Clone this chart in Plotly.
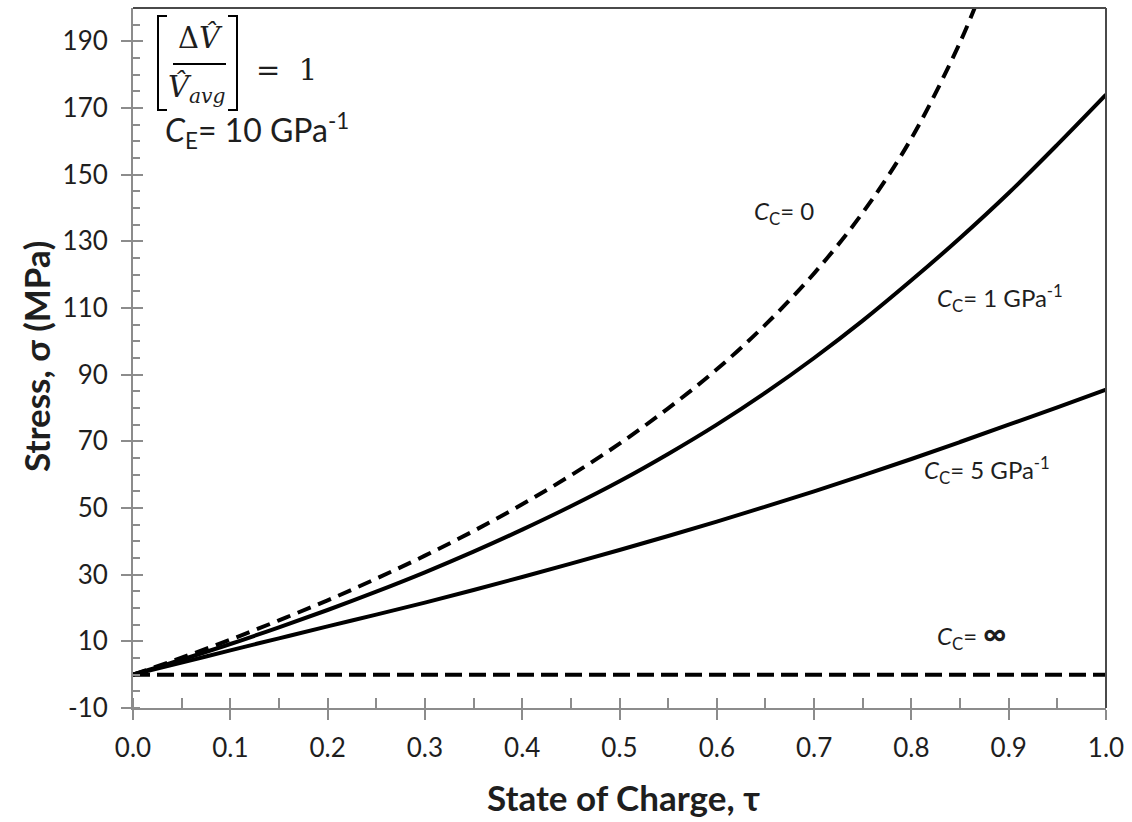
import plotly.graph_objects as go

# ---- data ----
tau_cc0 = [0.0, 0.05, 0.10, 0.15, 0.20, 0.25, 0.30, 0.35, 0.40, 0.45, 0.50, 0.55,
           0.60, 0.65, 0.70, 0.75, 0.80, 0.85, 0.87]
sig_cc0 = [0.0, 5.1, 10.5, 16.3, 22.3, 28.8, 35.7, 43.1, 51.1, 59.8, 69.3, 79.9,
           91.6, 105.0, 120.4, 138.6, 160.9, 189.7, 203.7]

tau = [0.0, 0.05, 0.10, 0.15, 0.20, 0.25, 0.30, 0.35, 0.40, 0.45, 0.50, 0.55,
       0.60, 0.65, 0.70, 0.75, 0.80, 0.85, 0.90, 0.95, 1.0]
sig_cc1 = [0.0, 4.5, 9.2, 14.2, 19.4, 24.9, 30.7, 36.9, 43.5, 50.5, 58.0, 66.2,
           75.0, 84.6, 95.0, 106.2, 118.3, 131.0, 144.5, 159.0, 174.0]
sig_cc5 = [0.0, 3.6, 7.3, 10.9, 14.5, 18.0, 21.6, 25.4, 29.3, 33.3, 37.4, 41.6,
           45.9, 50.4, 55.0, 59.8, 64.7, 69.8, 75.0, 80.2, 85.5]

tau_inf = [0.0, 1.0]
sig_inf = [0.0, 0.0]

x_range = [0.0, 1.0]
y_range = [-10, 200]
y_tickvals = [-10, 10, 30, 50, 70, 90, 110, 130, 150, 170, 190]
y_ticktext = ["-10", "10", "30", "50", "70", "90", "110", "130", "150", "170", "190"]

# ---- layout helpers (pixel -> paper) ----
L, T, W, H = 133, 8, 973, 700
def px(x):
    return (x - L) / W
def py(y):
    return (T + H - y) / H

AXIS = "#8c8c8c"
TXT = "#1e1e1e"
FONT = "Lato"
SERIF = "DejaVu Serif"

fig = go.Figure()
line_w = 4
fig.add_trace(go.Scatter(x=tau_cc0, y=sig_cc0, mode="lines", line_shape="spline",
                         line=dict(color="black", width=line_w, dash="14px,8px"),
                         showlegend=False, hoverinfo="skip"))
fig.add_trace(go.Scatter(x=tau, y=sig_cc1, mode="lines", line_shape="spline",
                         line=dict(color="black", width=line_w),
                         showlegend=False, hoverinfo="skip"))
fig.add_trace(go.Scatter(x=tau, y=sig_cc5, mode="lines", line_shape="spline",
                         line=dict(color="black", width=line_w),
                         showlegend=False, hoverinfo="skip"))
fig.add_trace(go.Scatter(x=tau_inf, y=sig_inf, mode="lines",
                         line=dict(color="black", width=line_w, dash="17px,7px"),
                         showlegend=False, hoverinfo="skip"))
# invisible trace on overlay axes (for inward half of major ticks)
fig.add_trace(go.Scatter(x=[0.5], y=[50], xaxis="x2", yaxis="y2", mode="markers",
                         marker=dict(opacity=0), showlegend=False, hoverinfo="skip"))

tickfont = dict(family=FONT, size=26, color=TXT)
fig.update_layout(
    width=1132, height=822,
    margin=dict(l=L, r=1132 - L - W, t=T, b=822 - T - H),
    paper_bgcolor="white", plot_bgcolor="white",
    xaxis=dict(range=x_range, tick0=0, dtick=0.1, tickformat=".1f",
               showgrid=False, zeroline=False,
               showline=True, linecolor=AXIS, linewidth=2,
               ticks="outside", ticklen=10, tickwidth=2, tickcolor=AXIS,
               ticklabelstandoff=6, tickfont=tickfont,
               minor=dict(ticks="inside", dtick=0.05, ticklen=10, tickwidth=2,
                          tickcolor=AXIS, showgrid=False)),
    yaxis=dict(range=y_range, tickmode="array", tickvals=y_tickvals,
               ticktext=y_ticktext,
               showgrid=False, zeroline=False,
               showline=True, linecolor=AXIS, linewidth=2,
               ticks="outside", ticklen=10, tickwidth=2, tickcolor=AXIS,
               ticklabelstandoff=8, tickfont=tickfont,
               minor=dict(ticks="inside", dtick=5, ticklen=7, tickwidth=2,
                          tickcolor=AXIS, showgrid=False)),
    xaxis2=dict(range=x_range, overlaying="x", anchor="y", side="bottom",
                tick0=0, dtick=0.1, ticks="inside", ticklen=10, tickwidth=2,
                tickcolor=AXIS, showticklabels=False, showgrid=False,
                zeroline=False, showline=False),
    yaxis2=dict(range=y_range, overlaying="y", anchor="x", side="left",
                tickmode="array", tickvals=y_tickvals,
                ticks="inside", ticklen=10, tickwidth=2,
                tickcolor=AXIS, showticklabels=False, showgrid=False,
                zeroline=False, showline=False),
)

shapes = [
    # plot-area border (top, right)
    dict(type="line", xref="paper", yref="paper", x0=0, x1=1, y0=1, y1=1,
         line=dict(color="#4a4a4a", width=2)),
    dict(type="line", xref="paper", yref="paper", x0=1, x1=1, y0=0, y1=1,
         line=dict(color="#4a4a4a", width=2)),
    # brackets of the formula
    dict(type="path", xref="paper", yref="paper",
         path=f"M {px(167)},{py(16)} L {px(158)},{py(16)} L {px(158)},{py(110)} L {px(167)},{py(110)}",
         line=dict(color="black", width=2)),
    dict(type="path", xref="paper", yref="paper",
         path=f"M {px(228)},{py(16)} L {px(237)},{py(16)} L {px(237)},{py(110)} L {px(228)},{py(110)}",
         line=dict(color="black", width=2)),
    # fraction bar
    dict(type="line", xref="paper", yref="paper", x0=px(173), x1=px(226),
         y0=py(64), y1=py(64), line=dict(color="black", width=2)),
]
fig.update_layout(shapes=shapes)

def ann(text, x, y, size, family=FONT, xanchor="left", yanchor="middle", angle=0):
    return dict(text=text, x=px(x), y=py(y), xref="paper", yref="paper",
                xanchor=xanchor, yanchor=yanchor, showarrow=False, textangle=angle,
                font=dict(family=family, size=size, color=TXT))

annotations = [
    ann("Δ<i>V\u0302</i>", 200, 38, 29, family=SERIF, xanchor="center"),
    ann("<i>V\u0302<sub>avg</sub></i>", 197, 89, 29, family=SERIF, xanchor="center"),
    ann("=  1", 254, 70, 29, family=SERIF),
    ann("<i>C</i><sub>E</sub>= 10 GPa<sup>-1</sup>", 163, 130, 32),
    ann("<i>C</i><sub>C</sub>= 0", 752, 213, 24),
    ann("<i>C</i><sub>C</sub>= 1 GPa<sup>-1</sup>", 935, 298, 24),
    ann("<i>C</i><sub>C</sub>= 5 GPa<sup>-1</sup>", 922, 470, 24),
    ann("<i>C</i><sub>C</sub>= <b><span style='font-size:32px'>∞</span></b>", 935, 633, 24),
    ann("<b>State of Charge, τ</b>", 623, 797, 35, xanchor="center"),
    ann("<b>Stress, σ (MPa)</b>", 36, 357, 35, xanchor="center", angle=-90),
]
fig.update_layout(annotations=annotations)

fig.write_html("out.html")
